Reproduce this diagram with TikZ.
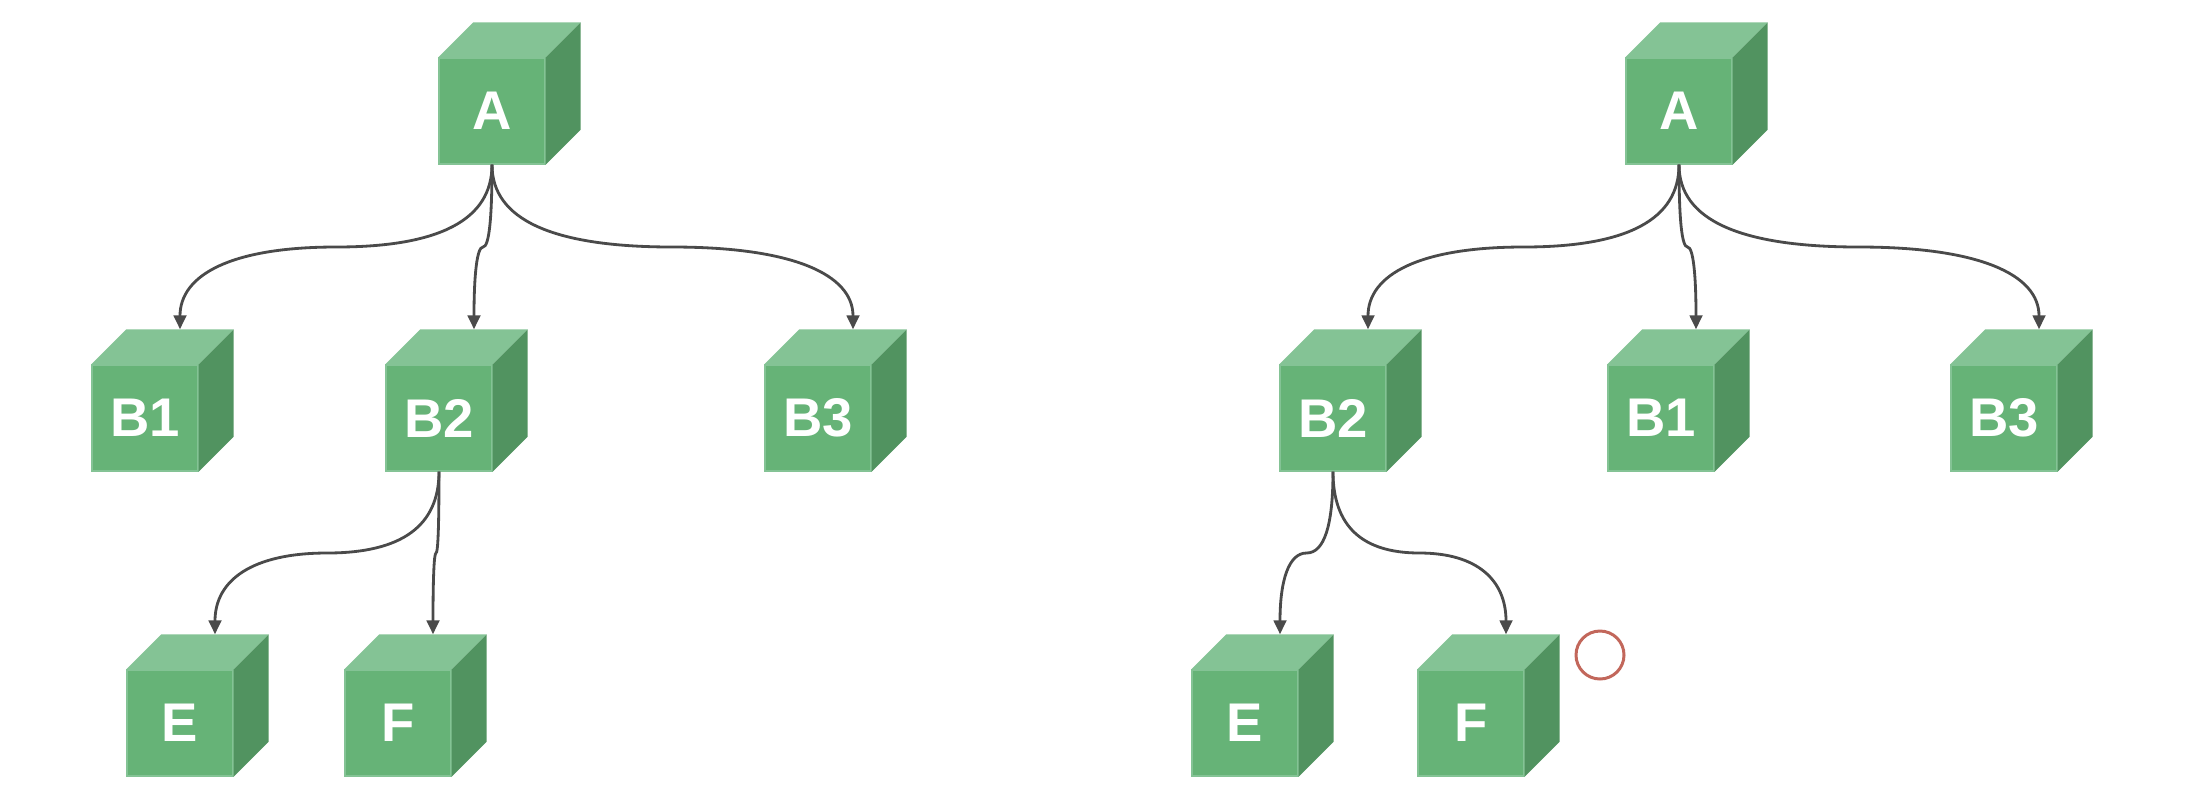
\documentclass[tikz,border=0pt]{standalone}
\usepackage{fontspec}
\setmainfont{Liberation Sans}
\usetikzlibrary{calc,arrows.meta}

\definecolor{cubefront}{HTML}{66B377}
\definecolor{cubetop}{HTML}{84C395}
\definecolor{cubeside}{HTML}{519360}
\definecolor{linkgray}{HTML}{4A4A4A}
\definecolor{markred}{HTML}{C2675B}

% cube: front face is the node, top and side drawn from its anchors
\newcommand\greencube[3]{%
  \node[face] (#1) at (#2) {#3};
  \fill[cubetop] (#1.north west) -- ++(0.35,0.35) -- ($(#1.north east)+(0.35,0.35)$) -- (#1.north east) -- cycle;
  \fill[cubeside] (#1.north east) -- ++(0.35,0.35) -- ($(#1.south east)+(0.35,0.35)$) -- (#1.south east) -- cycle;
  \coordinate (#1-in) at ($(#1.north)+(0.35,0.35)$);
}

\begin{document}
\begin{tikzpicture}[
  face/.style={rectangle, fill=cubefront, draw=cubetop, line width=0.4pt, minimum width=1.06cm, minimum height=1.06cm,
    inner sep=0pt, text=white, font=\bfseries\fontsize{15.5}{15.5}\selectfont},
  link/.style={draw=linkgray, line width=0.8pt, -{Triangle[length=4pt,width=3.6pt]}},
  via mid/.style={to path={let \p1=(\tikztostart), \p2=(\tikztotarget), \n1={(\y1+\y2)/2}, \n2={(\x1+\x2)/2} in
    .. controls ({\x1},{\y1+2/3*(\n1-\y1)}) and ({\n2+2/3*(\x1-\n2)},{\n1}) .. ({\n2},{\n1})
    .. controls ({\n2+2/3*(\x2-\n2)},{\n1}) and ({\x2},{\y2+2/3*(\n1-\y2)}) .. (\p2)}}]
  \useasboundingbox (0,0) rectangle (21.94,-7.93);

  % left tree
  \greencube{lA}{4.92,-1.11}{A}
  \greencube{lB1}{1.45,-4.18}{B1}
  \greencube{lB2}{4.39,-4.18}{B2}
  \greencube{lB3}{8.18,-4.18}{B3}
  \greencube{lE}{1.80,-7.23}{E}
  \greencube{lF}{3.98,-7.23}{F}

  \draw[link] (lA.south) to[via mid] (lB1-in);
  \draw[link] (lA.south) to[via mid] (lB2-in);
  \draw[link] (lA.south) to[via mid] (lB3-in);
  \draw[link] (lB2.south) to[via mid] (lE-in);
  \draw[link] (lB2.south) to[via mid] (lF-in);

  % right tree
  \greencube{rA}{16.79,-1.11}{A}
  \greencube{rB2}{13.33,-4.18}{B2}
  \greencube{rB1}{16.61,-4.18}{B1}
  \greencube{rB3}{20.04,-4.18}{B3}
  \greencube{rE}{12.45,-7.23}{E}
  \greencube{rF}{14.71,-7.23}{F}

  \draw[link] (rA.south) to[via mid] (rB2-in);
  \draw[link] (rA.south) to[via mid] (rB1-in);
  \draw[link] (rA.south) to[via mid] (rB3-in);
  \draw[link] (rB2.south) to[via mid] (rE-in);
  \draw[link] (rB2.south) to[via mid] (rF-in);

  \node[circle, draw=markred, line width=0.85pt, minimum size=0.48cm, inner sep=0pt] (mark) at (16.00,-6.55) {};
\end{tikzpicture}
\end{document}
